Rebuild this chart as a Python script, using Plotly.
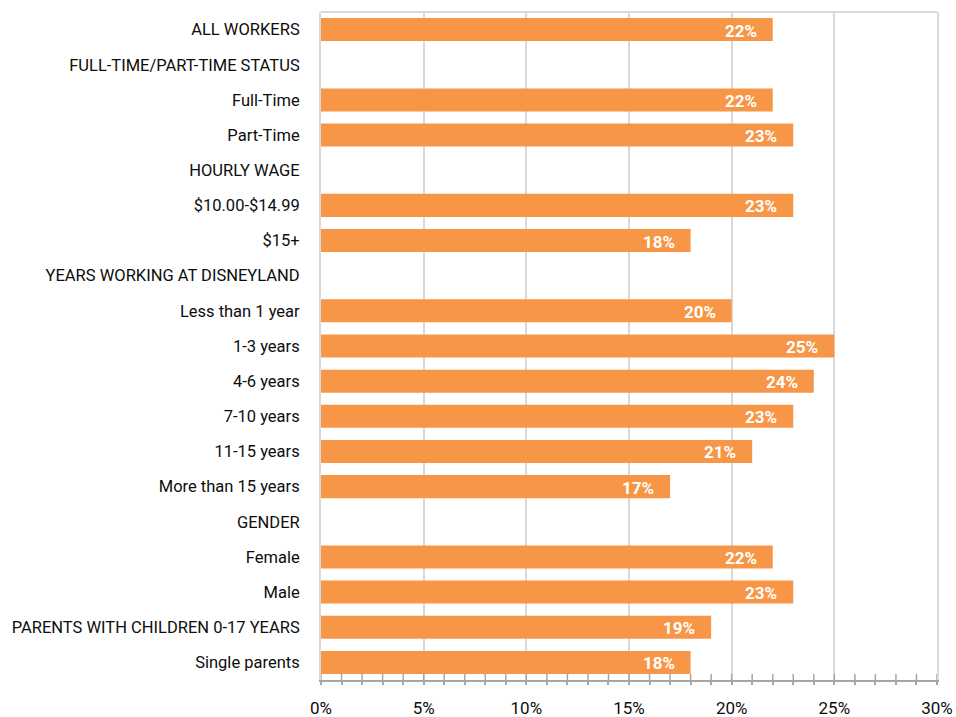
import plotly.graph_objects as go

# Row labels, top to bottom; group headers carry no value
categories = [
    "ALL WORKERS",
    "FULL-TIME/PART-TIME STATUS",
    "Full-Time",
    "Part-Time",
    "HOURLY WAGE",
    "$10.00-$14.99",
    "$15+",
    "YEARS WORKING AT DISNEYLAND",
    "Less than 1 year",
    "1-3 years",
    "4-6 years",
    "7-10 years",
    "11-15 years",
    "More than 15 years",
    "GENDER",
    "Female",
    "Male",
    "PARENTS WITH CHILDREN 0-17 YEARS",
    "Single parents",
]
values = [22, None, 22, 23, None, 23, 18, None, 20, 25, 24, 23, 21, 17, None, 22, 23, 19, 18]
tick_values = [0, 5, 10, 15, 20, 25, 30]
tick_labels = ["0%", "5%", "10%", "15%", "20%", "25%", "30%"]

FONT = "Roboto, sans-serif"
BAR = "#F79646"
AXIS = "#A6A6A6"
GRID = "#D9D9D9"
TEXT = "#0D0D0D"
X_MAX = 30

fig = go.Figure()
fig.add_trace(go.Bar(
    x=values, y=categories, orientation="h",
    marker=dict(color=BAR, line=dict(width=0)),
    hoverinfo="skip",
))

# Value labels placed just inside the end of each bar
for cat, v in zip(categories, values):
    if v is None:
        continue
    fig.add_annotation(
        x=v, y=cat, text=f"{v}%", showarrow=False,
        xanchor="right", xshift=-14, yshift=-1,
        font=dict(family=FONT, size=17, color="white", weight="bold"),
    )

# Upper part of the minor ticks crossing the x axis line
for t in range(0, X_MAX + 1):
    fig.add_shape(type="line", xref="x", yref="paper", x0=t, x1=t, y0=0, y1=0.009,
                  line=dict(color=AXIS, width=1.5), layer="above")

# Light frame along the top of the plot area
fig.add_shape(type="line", xref="paper", yref="paper", x0=0, x1=1, y0=1, y1=1,
              line=dict(color=GRID, width=2), layer="below")

fig.update_layout(
    width=956, height=717,
    margin=dict(l=321, r=19, t=12, b=37, autoexpand=False),
    paper_bgcolor="white", plot_bgcolor="white",
    bargap=0.345,
    showlegend=False,
    font=dict(family=FONT, color=TEXT),
    xaxis=dict(
        range=[0, X_MAX], tickvals=tick_values, ticktext=tick_labels,
        showgrid=True, gridcolor=GRID, gridwidth=2,
        zeroline=False, automargin=False,
        showline=True, linecolor=AXIS, linewidth=2,
        ticks="outside", ticklen=3, tickwidth=1.5, tickcolor=AXIS,
        ticklabelstandoff=9,
        minor=dict(dtick=1, ticks="outside", ticklen=3, tickwidth=1.5,
                   tickcolor=AXIS, showgrid=False),
        tickfont=dict(family=FONT, size=17, color=TEXT),
        fixedrange=True,
    ),
    yaxis=dict(
        categoryorder="array", categoryarray=categories,
        range=[len(categories) - 0.5, -0.5], autorange=False, automargin=False,
        showgrid=False, zeroline=False,
        showline=True, mirror=True, linecolor=GRID, linewidth=2,
        ticks="", ticklabelstandoff=16,
        tickfont=dict(family=FONT, size=16.5, color=TEXT),
        fixedrange=True,
    ),
)

fig.write_html("out.html")
